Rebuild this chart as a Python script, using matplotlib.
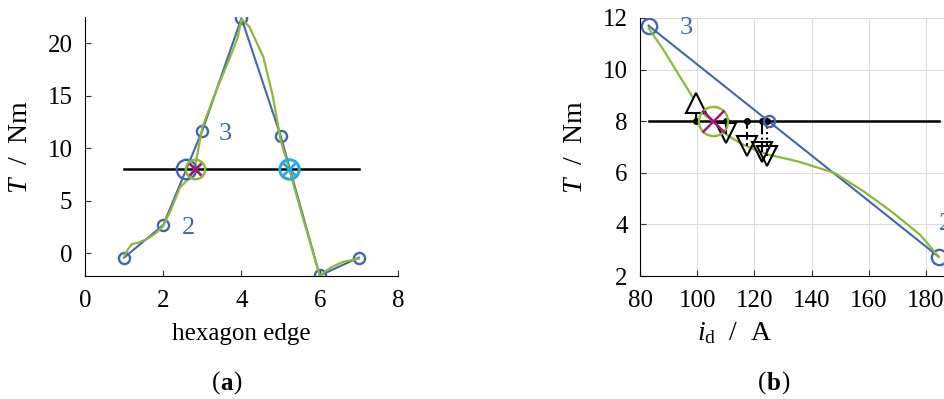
import matplotlib
matplotlib.use('Agg')
import matplotlib.pyplot as plt

plt.rcParams['font.family'] = ['Liberation Serif', 'DejaVu Serif']
plt.rcParams['mathtext.fontset'] = 'custom'
plt.rcParams['mathtext.rm'] = 'Liberation Serif'
plt.rcParams['mathtext.it'] = 'Liberation Serif:italic'

blue = '#4466b0'
green = '#8db83a'
cyan = '#2aa8e0'
magenta = '#a0197f'

# panel (a): torque over hexagon edges
edge = [1, 2, 3, 4, 5, 6, 7]
torque_edge = [-0.4, 2.7, 11.7, 22.4, 11.2, -2.1, -0.4]
fit_x = [1.0, 1.1, 1.2, 1.35, 1.6, 1.8, 2.0, 2.2, 2.43, 2.62, 2.8, 2.9, 3.0, 3.3,
         3.71, 3.9, 4.0, 4.2, 4.56, 4.8, 5.0, 5.22, 5.6, 6.0, 6.3, 6.6, 7.0]
fit_y = [-0.3, 0.4, 0.9, 1.0, 1.4, 1.9, 2.6, 4.2, 6.3, 7.0, 8.0, 10.0, 12.0, 15.0,
         18.7, 20.5, 22.3, 21.6, 18.7, 15.0, 10.8, 8.0, 3.0, -2.1, -1.3, -0.8, -0.5]
ref_a = [1, 7]
ref_t = 8
cross_a = [2.59, 2.8, 5.22]

# panel (b): torque over d-current
id_lin = [83, 184.5]
t_lin = [11.7, 2.75]
id_fit = [83, 88, 93, 98, 102, 105.5, 110, 115, 120, 125, 135, 148, 158, 168, 178, 184.5]
t_fit = [11.6, 10.8, 9.9, 9.0, 8.3, 8.0, 7.5, 7.15, 6.9, 6.7, 6.45, 6.0, 5.3, 4.5, 3.6, 2.75]
id_cross = [125, 105.5]
id_step = [99.5, 110, 117.5, 122.5, 124.5]
t_step = [8.7, 7.55, 7.05, 6.8, 6.65]
step_styles = ['-', '-', '--', '-.', ':']

fs = 18

fig = plt.figure(figsize=(9.44, 3.99), dpi=100)

# ---- (a)
ax1 = fig.add_axes([0.090, 0.308, 0.3316, 0.649])
ax1.plot(ref_a, [ref_t, ref_t], color='black', lw=1.8)
ax1.plot(edge, torque_edge, color=blue, lw=1.5, marker='o', ms=8, mfc='none', mew=1.7)
ax1.plot(fit_x, fit_y, color=green, lw=1.6)
ax1.plot(cross_a[0], ref_t, 'o', ms=14, mfc='none', mec=blue, mew=1.7)
ax1.plot(cross_a[1], ref_t, 'o', ms=14, mfc='none', mec=green, mew=1.7)
ax1.plot(cross_a[1], ref_t, 'x', ms=9, mec=magenta, mew=2)
ax1.plot(cross_a[2], ref_t, 'o', ms=14, mfc='none', mec=cyan, mew=2.2)
ax1.plot(cross_a[2], ref_t, 'x', ms=9, mec=cyan, mew=2)
ax1.text(3.42, 11.4, '3', color=blue, fontsize=fs + 1, va='center')
ax1.text(2.48, 2.4, '2', color=blue, fontsize=fs + 1, va='center')
ax1.set_xlim(0, 8)
ax1.set_ylim(-2.16, 22.5)
ax1.set_xticks([0, 2, 4, 6, 8])
ax1.set_yticks([0, 5, 10, 15, 20])
ax1.spines['top'].set_visible(False)
ax1.spines['right'].set_visible(False)
ax1.tick_params(direction='in', labelsize=fs, length=4, color='#333333')
ax1.tick_params(axis='x', pad=10)
ax1.tick_params(axis='y', pad=9)
ax1.set_xlabel('hexagon edge', fontsize=18, labelpad=8)
ax1.set_ylabel('$T$  /  Nm', fontsize=20)
ax1.yaxis.set_label_coords(-0.166, 0.5)

# ---- (b)
ax2 = fig.add_axes([0.678, 0.308, 0.327, 0.647])
ax2.grid(True, color='#dddddd', lw=0.8)
ax2.plot(id_lin, [ref_t, ref_t], color='black', lw=1.8)
ax2.plot(id_lin, t_lin, color=blue, lw=1.5, marker='o', ms=11, mfc='none', mew=1.7)
ax2.plot(id_fit, t_fit, color=green, lw=1.6)
for x, y, ls in zip(id_step, t_step, step_styles):
    ax2.plot([x, x], [ref_t, y], color='black', lw=1.5, ls=ls)
    ax2.plot(x, ref_t, 'o', color='black', ms=4)
ax2.plot(id_step[0], t_step[0], '^', ms=14, mfc='white', mec='black', mew=1.5)
ax2.plot(id_step[1:], t_step[1:], 'v', ms=14, mfc='none', mec='black', mew=1.5, ls='none')
ax2.plot(id_cross[0], ref_t, 'o', ms=8, mfc='none', mec=blue, mew=1.7)
ax2.plot(id_cross[1], ref_t, 'o', ms=21, mfc='none', mec=green, mew=1.7)
ax2.plot(id_cross[1], ref_t, 'x', ms=16, mec=magenta, mew=1.8)
ax2.text(94, 11.6, '3', color=blue, fontsize=fs + 1, va='center')
ax2.text(184.5, 4.0, '2', color=blue, fontsize=fs + 1, va='center')
ax2.set_xlim(80, 188)
ax2.set_ylim(2, 12)
ax2.set_xticks([80, 100, 120, 140, 160, 180])
ax2.set_yticks([2, 4, 6, 8, 10, 12])
ax2.spines['top'].set_visible(False)
ax2.spines['right'].set_visible(False)
ax2.tick_params(direction='in', labelsize=fs, length=4, color='#333333')
ax2.tick_params(axis='x', pad=10)
ax2.tick_params(axis='y', pad=9)
ax2.set_xlabel('$i_{\\mathrm{d}}$  /  A', fontsize=20)
ax2.xaxis.set_label_coords(0.308, -0.17)
ax2.set_ylabel('$T$  /  Nm', fontsize=20)
ax2.yaxis.set_label_coords(-0.168, 0.5)

fig.text(0.233, 0.04, '(', fontsize=fs, ha='right', va='center')
fig.text(0.233, 0.04, 'a', fontsize=fs, ha='left', va='center', weight='bold')
fig.text(0.247, 0.04, ')', fontsize=fs, ha='left', va='center')
fig.text(0.812, 0.04, '(', fontsize=fs, ha='right', va='center')
fig.text(0.812, 0.04, 'b', fontsize=fs, ha='left', va='center', weight='bold')
fig.text(0.827, 0.04, ')', fontsize=fs, ha='left', va='center')

fig.savefig('out.png', dpi=100)
